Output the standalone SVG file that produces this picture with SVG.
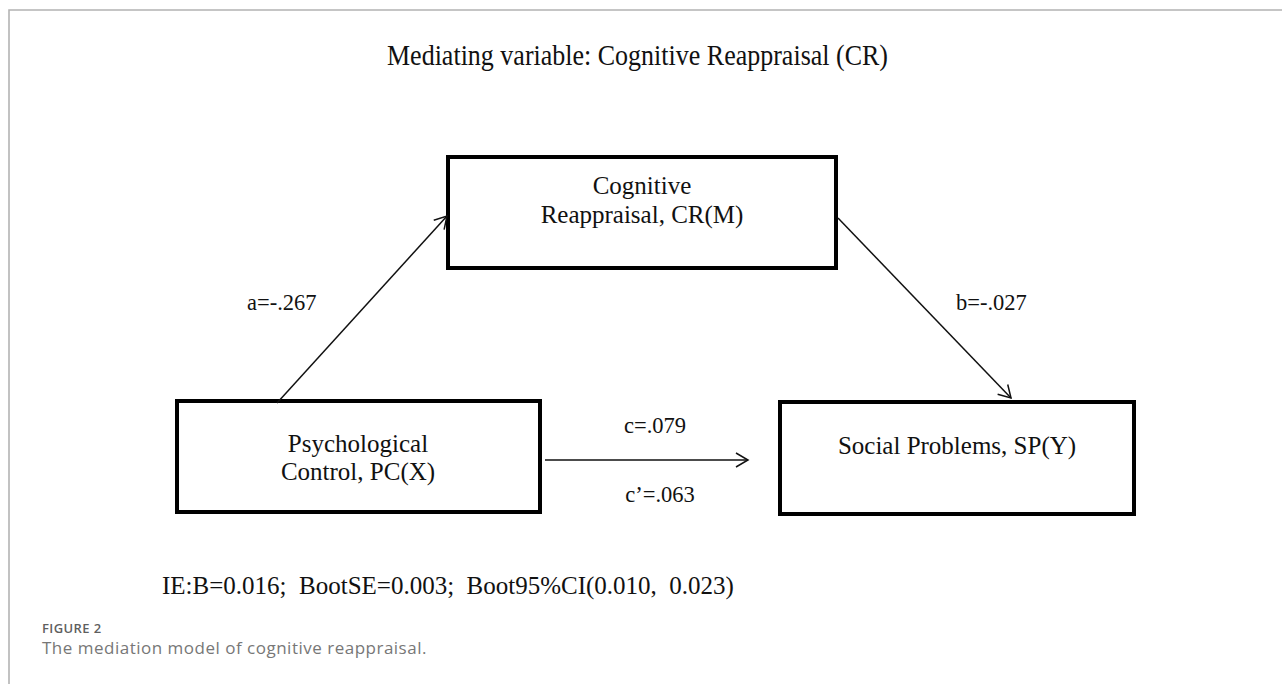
<svg xmlns="http://www.w3.org/2000/svg" width="1282" height="684" viewBox="0 0 1282 684">
<defs>
<marker id="arr" markerWidth="16" markerHeight="16" refX="14" refY="8" orient="auto" markerUnits="userSpaceOnUse">
<path d="M2,1 L14,8 L2,15" fill="none" stroke="#111" stroke-width="1.5"/>
</marker>
<style>
.box{fill:#fff;stroke:#000;stroke-width:4}
.t{font-family:"Liberation Serif","Times New Roman",serif;fill:#111}
.nl{font-size:25px;text-anchor:middle}
.lb{font-size:22.5px}
.edge{stroke:#111;stroke-width:1.5;fill:none}
.frame{stroke:#b3b3b3;stroke-width:1.6;fill:none}
.cap{font-family:"Open Sans",Lato,sans-serif}
</style>
</defs>
<rect width="1282" height="684" fill="#fff"/>
<path class="frame" d="M9,684 V10 H1282"/>
<text class="t" x="387" y="65" font-size="29.5" textLength="501" lengthAdjust="spacingAndGlyphs">Mediating variable: Cognitive Reappraisal (CR)</text>
<g id="node-cr">
<rect class="box" x="448" y="157" width="388" height="111"/>
<text class="t nl" x="642" y="194">Cognitive</text>
<text class="t nl" x="642" y="223">Reappraisal, CR(M)</text>
</g>
<g id="node-pc">
<rect class="box" x="177" y="401" width="363" height="111"/>
<text class="t nl" x="358" y="452">Psychological</text>
<text class="t nl" x="358" y="480">Control, PC(X)</text>
</g>
<g id="node-sp">
<rect class="box" x="780" y="402" width="354" height="112"/>
<text class="t nl" x="957" y="454">Social Problems, SP(Y)</text>
</g>
<g id="connectors">
<line class="edge" x1="277" y1="403" x2="447" y2="216" marker-end="url(#arr)"/>
<line class="edge" x1="838" y1="218" x2="1011" y2="398" marker-end="url(#arr)"/>
<line class="edge" x1="545" y1="460" x2="748" y2="460" marker-end="url(#arr)"/>
</g>
<g id="labels">
<text class="t lb" x="247" y="310">a=-.267</text>
<text class="t lb" x="956" y="310">b=-.027</text>
<text class="t lb" x="655" y="433" text-anchor="middle">c=.079</text>
<text class="t lb" x="660" y="502" text-anchor="middle">c’=.063</text>
</g>
<text class="t" x="162" y="594" font-size="25" xml:space="preserve">IE:B=0.016;  BootSE=0.003;  Boot95%CI(0.010,  0.023)</text>
<text class="cap" x="42" y="633" font-size="13" font-weight="600" letter-spacing="0.4" fill="#5f5f5f">FIGURE 2</text>
<text class="cap" x="42" y="654" font-size="17" letter-spacing="0.5" fill="#777">The mediation model of cognitive reappraisal.</text>
</svg>
